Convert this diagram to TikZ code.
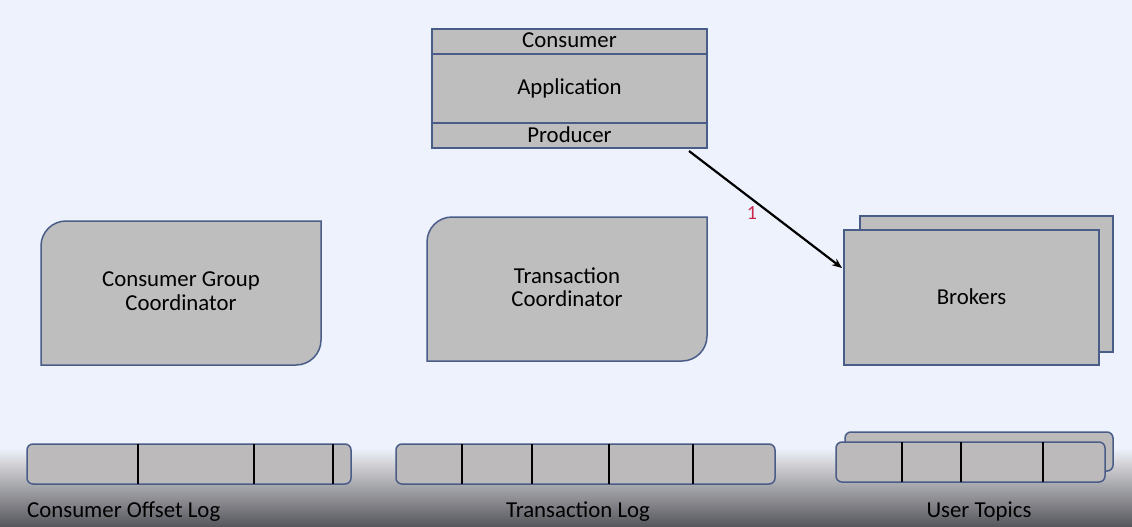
\documentclass[tikz,border=0pt]{standalone}
\usepackage{fontspec}
\setmainfont{Carlito}
\usepackage{tikz}
\usetikzlibrary{arrows.meta,positioning}
\definecolor{bgblue}{HTML}{EDF2FC}
\definecolor{boxgrey}{HTML}{BEBEBE}
\definecolor{logfill}{HTML}{BCBABA}
\definecolor{edgeblue}{HTML}{4A5C88}
\definecolor{stepred}{HTML}{C8284E}
\definecolor{floorlight}{HTML}{D6D6DA}
\definecolor{floordark}{HTML}{55565C}

\begin{document}
\begin{tikzpicture}[x=1pt,y=-1pt,
    box/.style={draw=edgeblue,fill=boxgrey,line width=1.5pt,outer sep=0pt,inner sep=0pt},
    boxtext/.style={font=\fontsize{22.8}{23.5}\selectfont},
    oneline/.style={boxtext,text height=13pt,text depth=0pt},
    logbar/.style={draw=edgeblue,fill=logfill,line width=1.5pt,rounded corners=6pt},
    cut/.style={black,line width=1.6pt},
    caption/.style={font=\fontsize{22.8}{23.5}\selectfont},
    flow/.style={black,line width=2.2pt,-{Stealth[length=10pt,width=8pt]}}]

	\useasboundingbox (0,0) rectangle (1132,527);
	% backdrop with the dark floor
	\fill[bgblue] (0,0) rectangle (1132,527);
	\shade[top color=bgblue,bottom color=floorlight] (0,448) rectangle (1132,462);
	\shade[top color=floorlight,bottom color=floordark] (0,462) rectangle (1132,527);

	% client
	\node[box,oneline,minimum width=275pt,minimum height=25pt] (consumer) at (569.5,41.5) {Consumer};
	\node[box,oneline,minimum width=275pt,minimum height=69pt] (application) [below=0pt of consumer] {Application};
	\node[box,oneline,minimum width=275pt,minimum height=25pt] (producer) [below=0pt of application] {Producer};

	% coordinators
	\draw[box] (41,365) -- (41,246) .. controls (41,232.2) and (52.2,221) .. (66,221) -- (321,221)
	    -- (321,340) .. controls (321,353.8) and (309.8,365) .. (296,365) -- cycle;
	\node[boxtext,align=center] (groupcoord) at (181,291.4) {Consumer Group\\Coordinator};
	\draw[box] (427,361) -- (427,242) .. controls (427,228.2) and (438.2,217) .. (452,217) -- (707,217)
	    -- (707,336) .. controls (707,349.8) and (695.8,361) .. (682,361) -- cycle;
	\node[boxtext,align=center] (txncoord) at (567,287.4) {Transaction\\Coordinator};

	% brokers
	\node[box,minimum width=253pt,minimum height=136pt] (brokersback) at (986.5,284) {};
	\node[box,oneline,minimum width=255pt,minimum height=135pt] (brokers) at (971.5,297.5) {Brokers};

	\draw[flow] ([xshift=-18pt,yshift=-3pt]producer.south east) -- ([xshift=-2pt,yshift=29.5pt]brokers.west);
	\node[text=stepred,font=\fontsize{20}{20}\selectfont] (stepone) at (752,213.5) {1};

	% logs
	\draw[logbar] (27,444) rectangle (351,484);
	\foreach \x in {138,254,333} \draw[cut] (\x,444) -- (\x,484);
	\node[caption,anchor=base west,inner sep=0pt] (offsetlog) at (27,517) {Consumer Offset Log};

	\draw[logbar] (396,444) rectangle (775,484);
	\foreach \x in {462,532,609,693} \draw[cut] (\x,444) -- (\x,484);
	\node[caption,anchor=base] (txnlog) at (578,517) {Transaction Log};

	\draw[logbar] (845,432) rectangle (1113,471);
	\draw[logbar] (836,442) rectangle (1105,482);
	\foreach \x in {902,961,1043} \draw[cut] (\x,442) -- (\x,482);
	\node[caption,anchor=base] (usertopics) at (979,517) {User Topics};
\end{tikzpicture}
\end{document}
